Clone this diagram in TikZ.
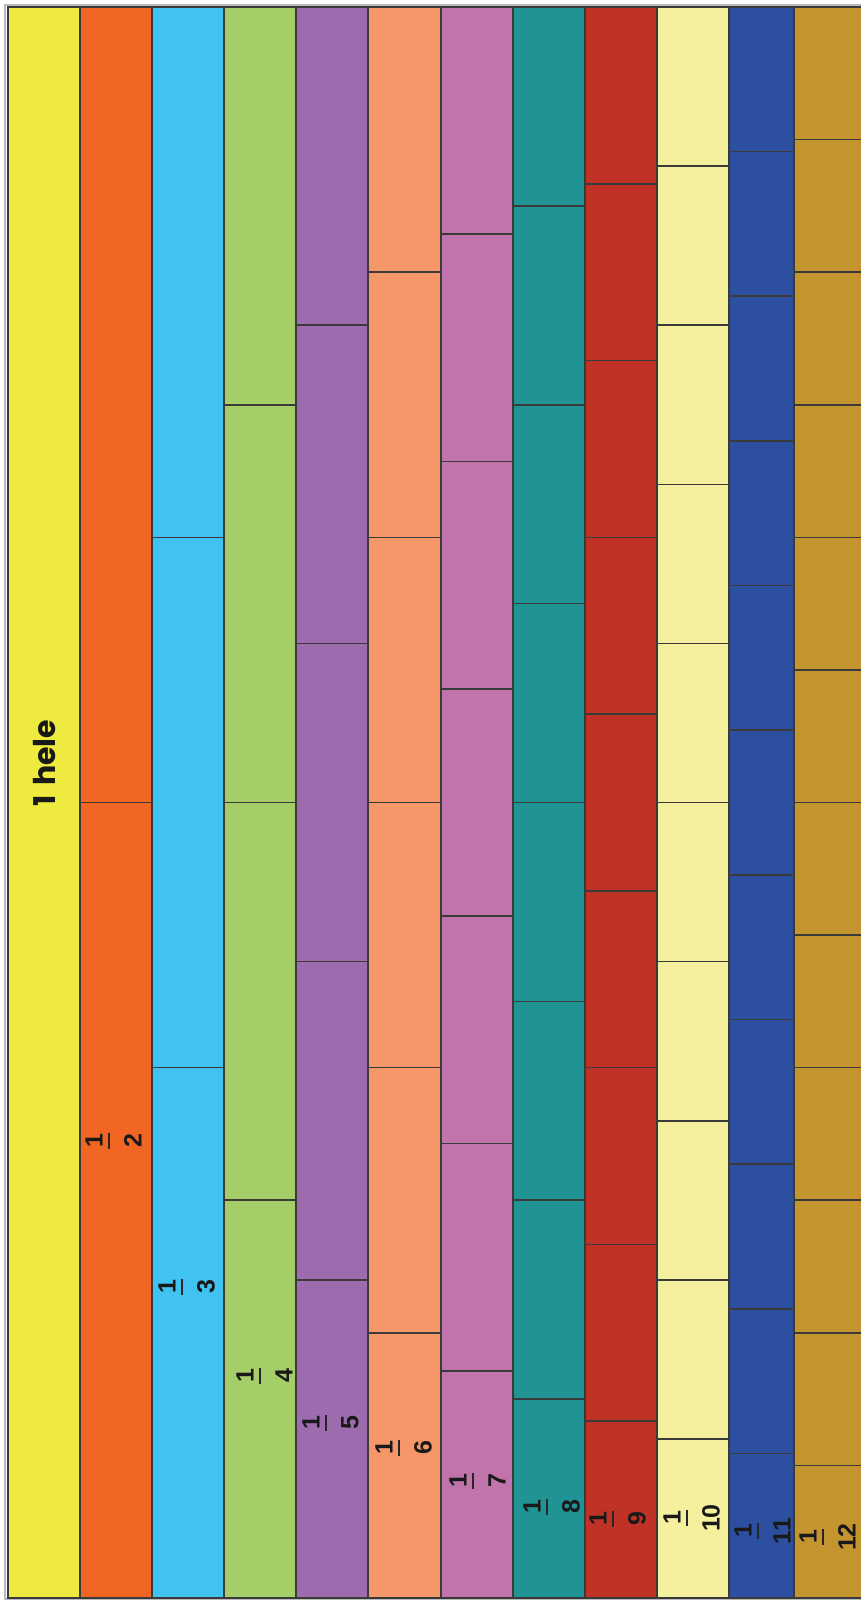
\documentclass[tikz,border=0pt]{standalone}
\usepackage{fontspec}
\setmainfont{Liberation Sans}
\newfontfamily\helefont{Poppins}
\definecolor{c1}{HTML}{EEEA40}
\definecolor{c2}{HTML}{F26623}
\definecolor{c3}{HTML}{40C3F0}
\definecolor{c4}{HTML}{A6CE68}
\definecolor{c5}{HTML}{9D6CAE}
\definecolor{c6}{HTML}{F69769}
\definecolor{c7}{HTML}{C174AC}
\definecolor{c8}{HTML}{209494}
\definecolor{c9}{HTML}{C03226}
\definecolor{c10}{HTML}{F4F09E}
\definecolor{c11}{HTML}{2C4FA0}
\definecolor{c12}{HTML}{C4952E}
\definecolor{linegray}{HTML}{3A3A3A}
\newcommand\fraclbl[4]{%
  \node[fracnum] (#1n) at ({#2-15},#3) {1};
  \draw[fracbar] (#2,{#3-8}) -- (#2,{#3+8});
  \node[fracnum] (#1d) at ({#2+24},#3) {#4};}
\begin{document}
\begin{tikzpicture}[x=1pt,y=-1pt,
  segbox/.style={draw=linegray,line width=1.6pt},
  fracnum/.style={font=\bfseries\fontsize{25}{25}\selectfont,rotate=90,inner sep=0pt,text=black!90},
  fracbar/.style={line width=2pt,draw=black!85},
  helelbl/.style={font=\helefont\bfseries\fontsize{30}{30}\selectfont,rotate=90,inner sep=0pt,text=black!90}]
\useasboundingbox (0,0) rectangle (861,1600);
\clip (0,0) rectangle (861,1600);
\fill[white] (0,0) rectangle (861,1600);
\draw[gray!55,line width=2pt] (5,5) rectangle (900,1599);
\foreach \n/\l/\r in {1/8/80,2/80/152,3/152/224,4/224/296,5/296/368,6/368/441,7/441/513,8/513/585,9/585/657,10/657/729,11/729/794,12/794/890}{
  \pgfmathsetmacro\h{1591/\n}
  \foreach \k in {1,...,\n}{
    \filldraw[segbox,fill=c\n] (\l,{7+(\k-1)*\h}) rectangle (\r,{7+\k*\h});
  }
}
\node[helelbl] (hele) at (45,763) {1\hspace{3pt} hele};
\fraclbl{f2}{109}{1141}{2}
\fraclbl{f3}{182}{1287}{3}
\fraclbl{f4}{260}{1376}{4}
\fraclbl{f5}{326}{1423}{5}
\fraclbl{f6}{399}{1448}{6}
\fraclbl{f7}{473}{1481}{7}
\fraclbl{f8}{547}{1507}{8}
\fraclbl{f9}{613}{1519}{9}
\fraclbl{f10}{687}{1518}{10}
\fraclbl{f11}{758}{1531}{11}
\fraclbl{f12}{823}{1537}{12}
\end{tikzpicture}
\end{document}
